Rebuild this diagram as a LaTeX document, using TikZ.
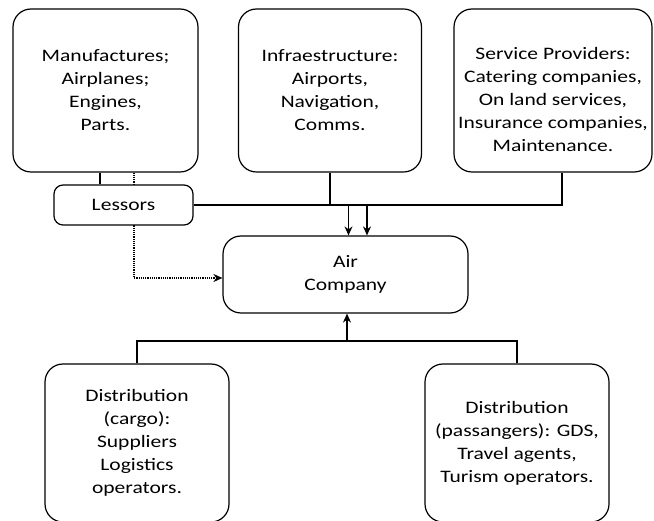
\documentclass[tikz,border=0pt]{standalone}
\usepackage{fontspec}
\setmainfont{Carlito}[FakeStretch=1.23]
\usetikzlibrary{arrows.meta}

\begin{document}
\begin{tikzpicture}[x=1pt, y=-1pt, line width=1.2pt,
        box/.style={draw, fill=white, rounded corners=18pt, align=center, inner sep=0pt,
          font=\fontsize{17.5}{23}\selectfont},
        arr/.style={-{Stealth[length=9pt, width=8pt]}}]
        \useasboundingbox (0,0) rectangle (654,521);

        % suppliers on top
        \node[box, minimum width=185pt, minimum height=163pt] (manuf) at (105.5,90.5)
          {Manufactures;\\ Airplanes;\\ Engines,\\ Parts.};
        \node[box, minimum width=183pt, minimum height=163pt] (infra) at (330,90.5)
          {Infraestructure:\\ Airports,\\ Navigation,\\ Comms.};
        \node[box, minimum width=198pt, minimum height=163pt] (serv) at (553,90.5)
          {\rule{0pt}{30pt}Service Providers:\\ Catering companies,\\ On land services,\\ Insurance companies,\\ Maintenance.};

        \node[box, minimum width=245pt, minimum height=77pt] (air) at (345.5,274.5) {Air\\ Company};

        % distribution below
        \node[box, minimum width=184pt, minimum height=158pt] (cargo) at (137,443)
          {Distribution\\ (cargo):\\ Suppliers\\ Logistics\\ operators.};
        \node[box, minimum width=184pt, minimum height=158pt] (pass) at (517,443)
          {Distribution\\ (passangers): GDS,\\ Travel agents,\\ Turism operators.};

        \draw[arr, densely dotted] ([xshift=28.5pt]manuf.south) |- ([yshift=-3.5pt]air.west);

        \node[box, rounded corners=9pt, minimum width=139pt, minimum height=40pt] (less) at (123.5,205) {Lessors};

        \draw ([xshift=-5.5pt]manuf.south) -- ([xshift=-5.5pt]manuf.south |- less.north);
        \draw (less.east) -| ([xshift=9pt]serv.south);
        \draw (infra.south) -- (infra.south |- less.east);

        \coordinate (in1) at ([xshift=3pt]air.north);
        \coordinate (in2) at ([xshift=21.5pt]air.north);
        \draw[arr] (in1 |- less.east) -- (in1);
        \draw[arr] (in2 |- less.east) -- (in2);

        \coordinate (join) at (347,341);
        \draw (cargo.north) |- (join) -| (pass.north);
        \draw[arr] (join) -- (air.south -| join);
      \end{tikzpicture}
\end{document}
